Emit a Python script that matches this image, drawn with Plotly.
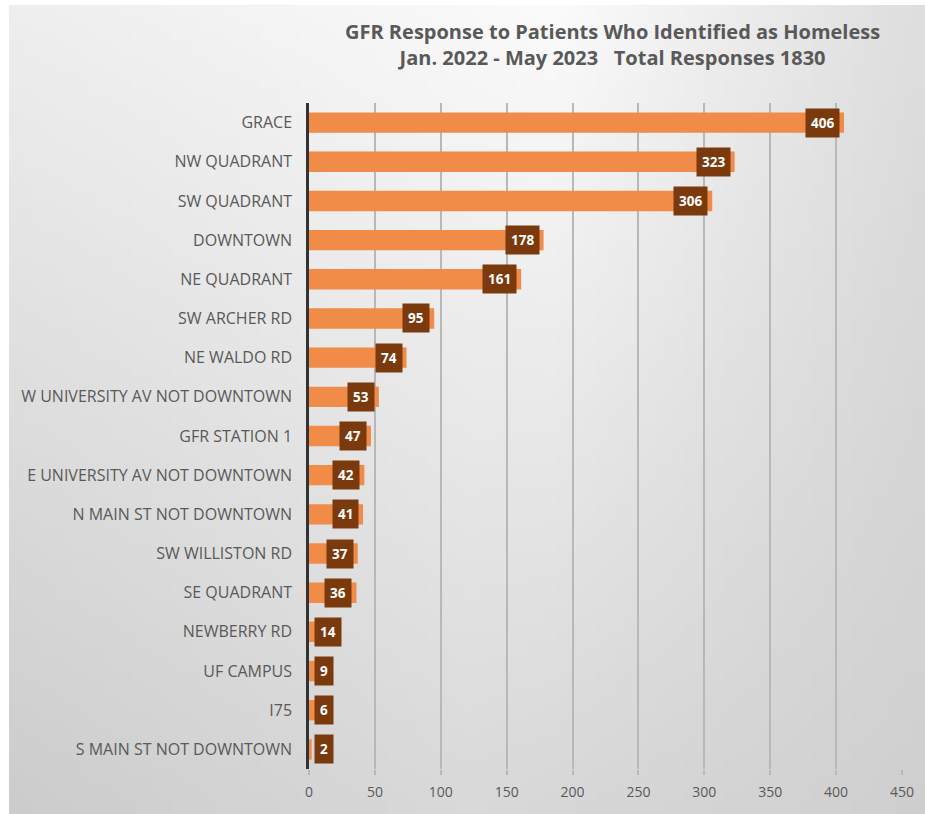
import base64
import struct
import zlib

import plotly.graph_objects as go

# Responses by area, top to bottom as listed
areas = [
    "GRACE", "NW QUADRANT", "SW QUADRANT", "DOWNTOWN", "NE QUADRANT",
    "SW ARCHER RD", "NE WALDO RD", "W UNIVERSITY AV NOT DOWNTOWN",
    "GFR STATION 1", "E UNIVERSITY AV NOT DOWNTOWN", "N MAIN ST NOT DOWNTOWN",
    "SW WILLISTON RD", "SE QUADRANT", "NEWBERRY RD", "UF CAMPUS", "I75",
    "S MAIN ST NOT DOWNTOWN",
]
responses = [406, 323, 306, 178, 161, 95, 74, 53, 47, 42, 41, 37, 36, 14, 9, 6, 2]
x_ticks = [0, 50, 100, 150, 200, 250, 300, 350, 400, 450]

W, H = 925, 814
BAR = "#f08b48"
LABEL_BG = "#7b3a0d"
TEXT = "#595959"
FONT = "Open Sans"


def backdrop_png(w=93, h=82):
    """Small grey gradient PNG (light near the top middle, darker at the edges)."""
    def lerp(a, b, t):
        return a + (b - a) * t

    def row_value(knots, t):
        (x0, v0), (x1, v1), (x2, v2) = knots
        if t <= x1:
            return lerp(v0, v1, (t - x0) / (x1 - x0))
        return lerp(v1, v2, (t - x1) / (x2 - x1))

    top = [(0.0, 238), (0.6, 251), (1.0, 222)]
    bottom = [(0.0, 204), (0.5, 217), (1.0, 207)]
    raw = bytearray()
    for j in range(h):
        ty = j / (h - 1)
        raw.append(0)
        for i in range(w):
            tx = i / (w - 1)
            v = int(round(lerp(row_value(top, tx), row_value(bottom, tx), ty)))
            raw += bytes((v, v, v))

    def chunk(tag, data):
        c = struct.pack(">I", len(data)) + tag + data
        return c + struct.pack(">I", zlib.crc32(tag + data) & 0xFFFFFFFF)

    png = b"\x89PNG\r\n\x1a\n"
    png += chunk(b"IHDR", struct.pack(">IIBBBBB", w, h, 8, 2, 0, 0, 0))
    png += chunk(b"IDAT", zlib.compress(bytes(raw), 9))
    png += chunk(b"IEND", b"")
    return "data:image/png;base64," + base64.b64encode(png).decode()


x_left, x_right = 309, 902
y_top, y_bottom = 103, 769

fig = go.Figure()
fig.add_trace(go.Bar(
    x=responses, y=areas, orientation="h",
    marker=dict(color=BAR, line=dict(width=0)),
    width=0.52, hoverinfo="x+y",
))

# Dark value boxes at the end of each bar (or just past the axis for short bars)
px_per_unit = (x_right - x_left) / 450.0
for name, v in zip(areas, responses):
    box_w = 9 * len(str(v)) + 12
    inside = v * px_per_unit >= box_w + 8
    fig.add_annotation(
        x=v if inside else 0, y=name, text=f"<b>{v}</b>",
        xanchor="right" if inside else "left", xshift=-4 if inside else 5,
        showarrow=False, bgcolor=LABEL_BG, borderpad=5,
        font=dict(color="white", size=13.5, family=FONT),
    )

fig.add_annotation(
    x=612 / W, y=1 - 44 / H, xref="paper", yref="paper",
    xanchor="center", yanchor="middle", showarrow=False,
    text="<b>GFR Response to Patients Who Identified as Homeless</b><br>"
         "<b>Jan. 2022 - May 2023   Total Responses 1830</b>",
    font=dict(size=20, color=TEXT, family=FONT), align="center",
)

fig.update_layout(
    width=W, height=H,
    margin=dict(l=0, r=0, t=0, b=0, autoexpand=False),
    paper_bgcolor="white", plot_bgcolor="rgba(0,0,0,0)",
    showlegend=False,
    font=dict(family=FONT, color=TEXT, size=14),
    images=[dict(
        source=backdrop_png(), xref="paper", yref="paper",
        x=9 / W, y=1 - 5 / H, sizex=1 - 9 / W, sizey=1 - 5 / H,
        xanchor="left", yanchor="top", sizing="stretch", layer="below",
    )],
    xaxis=dict(
        domain=[x_left / W, x_right / W], automargin=False,
        range=[0, 450], tickvals=x_ticks, showgrid=True,
        gridcolor="#b8b8b8", gridwidth=1.5, zeroline=False,
        ticks="outside", ticklen=5, tickcolor="#b8b8b8", tickwidth=1.5,
        ticklabelstandoff=5,
        tickfont=dict(size=14, color=TEXT), showline=False,
    ),
    yaxis=dict(
        domain=[1 - y_bottom / H, 1 - y_top / H], automargin=False,
        categoryorder="array", categoryarray=areas, autorange="reversed",
        showgrid=False, showline=True, linecolor="#333333", linewidth=2.5,
        ticks="", ticklabelstandoff=11, tickfont=dict(size=16, color=TEXT),
    ),
)

fig.write_html("out.html")
